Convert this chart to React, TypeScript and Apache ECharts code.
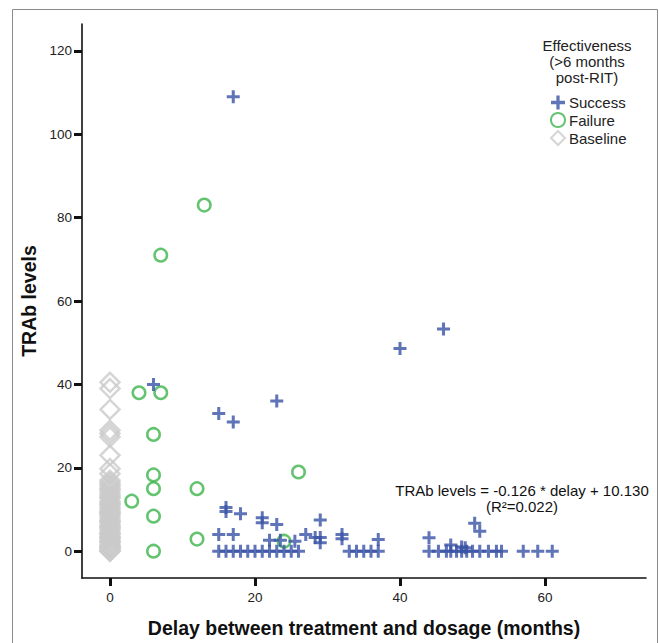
import React, { useEffect, useRef } from "react";
import * as echarts from "echarts";

// Success (+): [delay months, TRAb level]
const successX = [17, 46, 40, 6, 15, 17, 23, 16, 16, 18, 21, 21, 23, 15, 17, 22, 23.5, 25.5, 27, 28.3, 29, 29, 29, 32, 32, 37,
  15, 16, 17, 18, 19, 20, 21, 22, 23, 24, 25, 26, 33, 34, 35, 36, 37,
  44, 45.3, 46.4, 47, 47.8, 48.5, 49.2, 50, 51, 52.2, 53.3, 54, 57, 59, 61,
  44, 47, 48.5, 49, 50.3, 51];
const successY = [109, 53.3, 48.6, 40, 33, 31, 36, 10.5, 9.5, 9, 8, 6.8, 6.4, 4, 4, 2.6, 2.6, 2.4, 4, 3.3, 7.5, 3.3, 2, 4, 3, 2.8,
  0, 0, 0, 0, 0, 0, 0, 0, 0, 0, 0, 0, 0, 0, 0, 0, 0,
  0, 0, 0, 0, 0, 0, 0, 0, 0, 0, 0, 0, 0, 0, 0,
  3.2, 1.5, 1, 0.8, 6.7, 4.8];

// Failure (o)
const failureX = [13, 7, 4, 7, 6, 6, 6, 12, 3, 6, 26, 12, 6, 24];
const failureY = [83, 71, 38, 38, 28, 18.3, 15, 15, 12, 8.4, 19, 2.9, 0, 2.4];

// Baseline (diamond), all at delay 0
const baselineY = [40.5, 39, 34, 29, 28.2, 27.4, 23, 19.8, 18.6, 17, 16.5, 16, 15.5, 15, 14.6, 14, 13.5, 13, 12.7, 12, 11.5,
  11.3, 11, 10.5, 10, 9.5, 9.2, 9, 8.6, 8, 7.5, 7.2, 7, 6.4, 6, 5.8, 5.5, 5, 4.5, 4.2, 4, 3.5, 3.2, 3, 2.5, 2.2, 2,
  1.5, 1.2, 1, 0.8, 0.5, 0.3, 0, 0];

const xTicks = [0, 20, 40, 60];
const yTicks = [0, 20, 40, 60, 80, 100, 120];

const PLUS = "path://M4.6,0h2.8v4.6h4.6v2.8h-4.6v4.6h-2.8v-4.6h-4.6v-2.8h4.6z";
const FONT = "Liberation Sans, Arial, sans-serif";

export default function App() {
  const ref = useRef<HTMLDivElement>(null);
  useEffect(() => {
    const chart = echarts.init(ref.current!, null, { renderer: "svg" });
    const successData = successX.map((x, i) => [x, successY[i]]);
    const failureData = failureX.map((x, i) => [x, failureY[i]]);
    const baselineData = baselineY.map((y) => [0, y]);
    chart.setOption({
      animation: false,
      backgroundColor: "#ffffff",
      textStyle: { fontFamily: FONT },
      title: {
        text: "Effectiveness\n(>6 months\npost-RIT)",
        left: 587,
        top: 38,
        textAlign: "center",
        textStyle: { fontSize: 15, fontWeight: "normal", color: "#222", lineHeight: 15.8, fontFamily: FONT },
        padding: 0,
      },
      legend: {
        orient: "vertical",
        left: 550,
        top: 95,
        itemWidth: 14,
        itemHeight: 14,
        itemGap: 2,
        padding: 0,
        textStyle: { fontSize: 15, color: "#222", fontFamily: FONT, padding: [0, 0, 0, -1] },
        data: ["Success", "Failure", "Baseline"],
      },
      grid: { left: 82, right: 13, top: 24, bottom: 61, containLabel: false },
      xAxis: {
        type: "value",
        min: -3.862,
        max: 73.93,
        name: "Delay between treatment and dosage (months)",
        nameLocation: "middle",
        nameGap: 40,
        nameTextStyle: { fontSize: 19.5, fontWeight: "bold", color: "#111", fontFamily: FONT },
        splitLine: { show: false },
        axisLine: { show: true, onZero: false, lineStyle: { color: "#111", width: 1.6 } },
        axisTick: { show: true, customValues: xTicks, length: 8, lineStyle: { color: "#111", width: 3 } },
        axisLabel: { customValues: xTicks, fontSize: 13.5, color: "#222", margin: 12, fontFamily: FONT },
      },
      yAxis: {
        type: "value",
        min: -6.43,
        max: 126.43,
        name: "TRAb levels",
        nameLocation: "middle",
        nameGap: 35,
        nameTextStyle: { fontSize: 19.5, fontWeight: "bold", color: "#111", fontFamily: FONT },
        splitLine: { show: false },
        axisLine: { show: true, onZero: false, lineStyle: { color: "#111", width: 1.6 } },
        axisTick: { show: true, customValues: yTicks, length: 8, lineStyle: { color: "#111", width: 3 } },
        axisLabel: { customValues: yTicks, fontSize: 13.5, color: "#222", margin: 10, fontFamily: FONT },
      },
      graphic: [
        {
          type: "rect",
          shape: { x: 12.5, y: 9.5, width: 645, height: 660 },
          style: { fill: "none", stroke: "#8a8a8a", lineWidth: 1 },
          silent: true,
          z: -10,
        },
        {
          type: "text",
          x: 522,
          y: 482,
          style: {
            text: "TRAb levels = -0.126 * delay + 10.130\n(R²=0.022)",
            align: "center",
            fill: "#111",
            font: "15px " + FONT,
            lineHeight: 16,
          },
        },
      ],
      series: [
        {
          name: "Baseline",
          type: "scatter",
          symbol: "diamond",
          symbolSize: 19,
          itemStyle: { color: "rgba(255,255,255,0)", borderColor: "#cacaca", borderWidth: 2.5 },
          data: baselineData,
          z: 1,
        },
        {
          name: "Failure",
          type: "scatter",
          symbol: "circle",
          symbolSize: 12.5,
          itemStyle: { color: "rgba(255,255,255,0)", borderColor: "#3cb44b", borderWidth: 2.5 },
          data: failureData,
          z: 2,
        },
        {
          name: "Success",
          type: "scatter",
          symbol: PLUS,
          symbolSize: 13,
          itemStyle: { color: "#3852a5" },
          data: successData,
          z: 3,
        },
      ],
    });
    return () => chart.dispose();
  }, []);
  return (
    <div
      ref={ref}
      style={{ position: "fixed", left: 0, top: 0, width: 659, height: 643 }}
    />
  );
}
